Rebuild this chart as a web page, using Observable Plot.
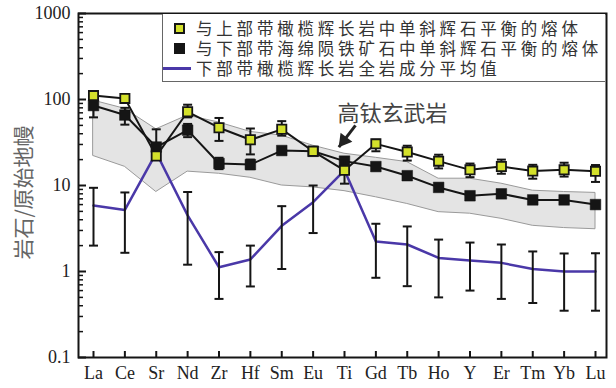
<!DOCTYPE html>
<html><head><meta charset="utf-8">
<script src="https://cdn.jsdelivr.net/npm/d3@7"></script>
<script src="https://cdn.jsdelivr.net/npm/@observablehq/plot@0.6"></script>
<style>
body{margin:0;background:#fff;}
#wrap{position:relative;width:616px;height:388px;overflow:hidden;}
#legend{position:absolute;left:162px;top:14px;width:443px;height:68px;background:#fff;border-left:1px solid #666;border-bottom:1px solid #666;box-sizing:border-box;font-family:"Noto Sans CJK SC";font-size:16.5px;letter-spacing:3.8px;color:#333;}
.row{position:absolute;left:33px;height:20px;line-height:20px;white-space:nowrap;}
.mk{position:absolute;box-sizing:border-box;}
</style></head>
<body>
<div id="wrap"></div>
<script>
// ---- data ----
const elements = ["La","Ce","Sr","Nd","Zr","Hf","Sm","Eu","Ti","Gd","Tb","Ho","Y","Er","Tm","Yb","Lu"];
const upperMelt  = [111,103,22,72,47,34,45,25,15,30.5,24.5,19.2,15.2,16.6,14.7,15.2,14.6];
const upperLow   = [null,null,null,62,33,23,38,null,10.5,25,19.5,15.8,12.5,13.7,12,12.7,11];
const upperHigh  = [null,null,null,87,61,46,56,null,20.5,34,29,22.8,18,20,17.4,18.4,17.3];
const lowerMelt  = [85,66,28,44,18,17.5,25.5,25,19.2,16.6,13,9.5,7.6,8.0,6.8,6.8,6.0];
const lowerLow   = [62,51,24,36.5,15.5,15.5,null,null,null,null,null,null,null,null,null,null,null];
const lowerHigh  = [100,80,45,52,21,20,null,null,null,null,null,null,null,null,null,null,null];
const wholeRock  = [5.85,5.2,24,4.5,1.12,1.38,3.4,6.4,15,2.23,2.06,1.44,1.34,1.26,1.07,1.0,1.0];
const wholeLow   = [2.0,1.65,null,1.2,0.48,0.67,1.07,2.8,null,0.845,0.675,0.50,0.60,0.48,0.43,0.35,0.35];
const wholeHigh  = [9.4,8.3,null,8.4,1.68,2.0,5.75,10,null,3.59,3.34,2.35,2.17,2.06,1.71,1.62,1.63];
const bandHigh   = [97,78,45,65,54,42,38,29,23.4,21,18.7,12,12,10.5,8.7,8.4,8.2];
const bandLow    = [22,16.5,8.4,14.5,13.7,12.3,10,9.5,8.6,7.3,6.1,4.9,4.7,4.1,3.4,3.2,3.1];
const yTickValues = [0.1,1,10,100,1000];
const yTickLabels = ["0.1","1","10","100","1000"];
const yMinorTicks = [0.2,0.3,0.4,0.5,0.6,0.7,0.8,0.9,2,3,4,5,6,7,8,9,20,30,40,50,60,70,80,90,200,300,400,500,600,700,800,900];
const legendLabels = ["与上部带橄榄辉长岩中单斜辉石平衡的熔体","与下部带海绵陨铁矿石中单斜辉石平衡的熔体","下部带橄榄辉长岩全岩成分平均值"];
const yTitle = "岩石/原始地幔";
const annotationText = "高钛玄武岩";
const annotationAt = {x: 7.78, y: 68};
const arrowFrom = {x: 8.35, y: 50};
const arrowTo = {x: 7.82, y: 28};

// ---- build ----
const idx = d3.range(elements.length);
const rows = idx.map(i => ({i, up: upperMelt[i], lo: lowerMelt[i], wr: wholeRock[i], bLo: bandLow[i], bHi: bandHigh[i]}));
function errs(vals, lows, highs){
  const bars = [], caps = [];
  idx.forEach(i => {
    if (lows[i] == null && highs[i] == null) return;
    const a = lows[i] ?? vals[i], b = highs[i] ?? vals[i];
    bars.push({i, a, b});
    if (lows[i] != null) caps.push({i, v: a});
    if (highs[i] != null) caps.push({i, v: b});
  });
  return {bars, caps};
}
const eUp = errs(upperMelt, upperLow, upperHigh);
const eLo = errs(lowerMelt, lowerLow, lowerHigh);
const eWr = errs(wholeRock, wholeLow, wholeHigh);
const capSymbol = {draw(ctx, size){ const r = Math.sqrt(size / Math.PI); ctx.moveTo(-r, 0); ctx.lineTo(r, 0); }};
const W = 616, H = 388, mL = 78, mR = 10, mT = 13, mB = 31;
const plotW = W - mL - mR, plotH = H - mT - mB;
const ink = "#151515", yellow = "#d4e12b", blue = "#4a38a8";
function errMarks(e){
  return [
    Plot.ruleX(e.bars, {x: "i", y1: "a", y2: "b", stroke: ink, strokeWidth: 2}),
    Plot.dot(e.caps, {x: "i", y: "v", symbol: capSymbol, r: 4.5, stroke: ink, strokeWidth: 2, fill: "none"})
  ];
}

const chart = Plot.plot({
  width: W, height: H, marginLeft: mL, marginRight: mR, marginTop: mT, marginBottom: mB,
  style: {fontFamily: "Liberation Serif", fontSize: "18px", color: "#222", background: "#fff"},
  x: {type: "linear", domain: [0, elements.length - 1], insetLeft: 15, insetRight: 11},
  y: {type: "log", domain: [0.1, 1000]},
  marks: [
    Plot.areaY(rows, {x: "i", y1: "bLo", y2: "bHi", fill: "#e4e4e4", stroke: "#9a9a9a", strokeWidth: 1}),
    Plot.tickY(yMinorTicks, {y: d => d, insetRight: plotW - 5, stroke: ink, strokeWidth: 1.5}),
    Plot.tickY(yTickValues, {y: d => d, insetRight: plotW - 8, stroke: ink, strokeWidth: 2}),
    Plot.tickX(idx, {x: d => d, insetTop: plotH - 6, stroke: ink, strokeWidth: 2}),
    Plot.line(rows, {x: "i", y: "wr", stroke: blue, strokeWidth: 2.5}),
    ...errMarks(eWr),
    Plot.line(rows, {x: "i", y: "lo", stroke: ink, strokeWidth: 2}),
    ...errMarks(eLo),
    Plot.dot(rows, {x: "i", y: "lo", symbol: "square", r: 6.0, fill: ink, stroke: ink, strokeWidth: 0.5}),
    Plot.line(rows, {x: "i", y: "up", stroke: ink, strokeWidth: 2}),
    ...errMarks(eUp),
    Plot.dot(rows, {x: "i", y: "up", symbol: "square", r: 5.2, fill: yellow, stroke: ink, strokeWidth: 1.8}),
    Plot.text([annotationText], {x: annotationAt.x, y: annotationAt.y, text: d => d, textAnchor: "start", fontFamily: "Noto Sans CJK SC", fontSize: 22, fill: "#444"}),
    Plot.link([0], {x1: arrowFrom.x, y1: arrowFrom.y, x2: arrowTo.x, y2: arrowTo.y, stroke: "#222", strokeWidth: 3}),
    Plot.dot([0], {x: arrowTo.x, y: arrowTo.y, symbol: "triangle", r: 5.5, rotate: 217.5, dx: 5, dy: -6.5, fill: "#222", stroke: "none"}),
    Plot.axisX({ticks: idx, tickFormat: i => elements[i], tickSize: 0, tickPadding: 9, fontSize: 18, label: null}),
    Plot.axisY({ticks: yTickValues, tickFormat: d => yTickLabels[yTickValues.indexOf(d)], tickSize: 0, tickPadding: 8, fontSize: 18, label: null}),
    Plot.frame({stroke: ink, strokeWidth: 2}),
    Plot.text([yTitle], {frameAnchor: "left", text: d => d, rotate: -90, textAnchor: "middle", dx: -54, dy: 7, fontFamily: "Noto Sans CJK SC", fontSize: 21, fill: "#666"})
  ]
});
const wrap = document.getElementById("wrap");
wrap.appendChild(chart);

// legend (inside plot, top-right)
const lg = document.createElement("div");
lg.id = "legend";
const markers = [
  `<div class="mk" style="left:11px;top:9px;width:11px;height:11px;background:${yellow};border:2px solid ${ink}"></div>`,
  `<div class="mk" style="left:11px;top:29px;width:11px;height:11px;background:${ink}"></div>`,
  `<div class="mk" style="left:0px;top:53px;width:28px;height:2.5px;background:${blue}"></div>`
];
lg.innerHTML = markers.join("") + legendLabels.map((t, k) => `<div class="row" style="top:${4 + 20 * k}px">${t}</div>`).join("");
wrap.appendChild(lg);
</script>
</body></html>
